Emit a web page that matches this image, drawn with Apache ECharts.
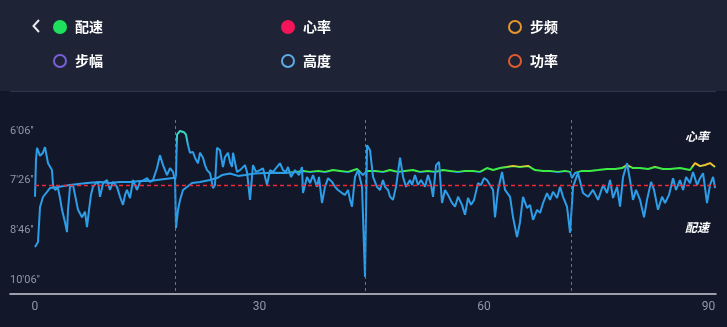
<!DOCTYPE html>
<html>
<head>
<meta charset="utf-8">
<style>
html,body{margin:0;padding:0;background:#12182a;}
#c{width:727px;height:327px;}
</style>
<script src="https://cdn.jsdelivr.net/npm/echarts@6/dist/echarts.min.js"></script>
</head>
<body>
<div id="c"></div>
<script>
// ---- data ----
const xTicks = [0, 30, 60, 90];
const paceTicks = [366, 446, 526, 606];          // seconds per km (6'06'' ... 10'06'')
const avgPace = 453;                               // red dashed reference line
const lapMarks = [18.71, 44.10, 71.63];           // vertical dashed markers

// line A (smooth, value-coloured) on hidden right axis
const hrX = [0,0.40,0.67,1.07,2.00,3.07,4.68,6.95,8.69,10.02,11.36,12.70,14.03,15.37,16.30,17.37,18.44,18.71,18.84,19.11,19.38,19.78,20.31,20.98,22.05,23.39,24.32,24.99,26.06,27.13,28.06,29.40,30.74,32.07,33.41,35.01,35.81,36.75,37.82,38.75,39.82,40.76,41.83,43.03,43.83,44.37,45.44,46.51,47.44,48.51,49.45,50.51,51.45,52.52,53.45,54.52,55.46,56.53,57.46,58.53,59.47,60.40,61.21,62.14,63.08,63.88,64.81,65.88,66.82,67.89,68.82,69.89,70.83,71.50,71.76,72.16,73.10,74.17,75.24,76.44,77.51,78.44,79.11,79.91,80.85,81.92,82.85,83.92,84.86,86.19,87.53,88.20,88.87,89.53,90.20,90.87];
const hrVal = [121.6,123.9,140.0,144.6,148.7,149.2,150.1,151.0,151.5,151.0,151.5,151.5,152.0,152.0,152.4,152.9,153.3,153.8,130.3,138.6,143.2,147.8,149.2,151.0,151.5,152.4,153.3,154.7,155.4,154.3,154.7,155.4,155.6,155.8,155.6,156.1,156.6,156.1,156.6,156.1,157.0,156.6,156.1,157.5,154.7,156.6,156.6,156.1,157.0,156.1,156.6,157.0,156.1,156.6,156.1,157.0,156.6,156.1,156.6,156.6,156.1,157.9,157.0,157.9,158.4,158.9,158.4,158.9,157.0,156.6,156.6,156.1,156.6,156.1,153.3,155.6,156.6,156.6,157.0,157.5,157.5,157.9,159.3,157.9,157.9,157.5,158.4,157.5,157.5,157.9,157.0,160.2,158.8,159.3,160.2,158.4];

// line B (noisy pace, seconds per km) on left inverted axis
const paceX = [0,0.13,0.27,0.67,1.07,1.34,1.74,2.00,2.27,2.41,2.67,3.07,3.34,3.61,4.01,4.28,4.41,4.68,5.08,5.48,5.75,6.28,6.68,6.95,7.22,7.48,7.75,8.15,8.42,8.69,9.09,9.62,10.02,10.42,10.96,11.36,11.76,12.03,12.29,12.70,13.10,13.63,14.03,14.57,14.97,15.37,15.77,16.30,16.70,17.11,17.64,18.04,18.44,18.71,18.84,18.98,19.38,19.91,20.18,20.45,20.71,21.11,21.38,21.78,22.05,22.45,22.72,22.99,23.39,23.79,24.05,24.32,24.72,25.12,25.39,25.79,26.06,26.33,26.46,26.99,27.40,27.66,28.06,28.33,28.73,29.13,29.53,30.07,30.47,31.00,31.40,31.81,32.21,32.74,33.14,33.54,33.81,34.21,34.75,35.28,35.68,35.81,36.35,36.75,37.15,37.69,37.95,38.35,38.75,39.16,39.69,40.09,40.49,41.03,41.43,41.83,42.10,42.36,42.76,43.16,43.70,44.10,44.37,44.77,45.17,45.70,46.10,46.50,46.77,47.17,47.44,47.84,48.24,48.78,49.18,49.58,50.11,50.38,50.78,51.18,51.58,52.12,52.52,52.92,53.19,53.59,53.99,54.39,54.79,55.19,55.73,56.13,56.53,57.06,57.46,57.86,58.27,58.67,59.20,59.60,60.00,60.40,60.80,61.21,61.47,61.87,62.41,62.81,63.48,63.88,64.41,64.81,65.21,65.75,66.15,66.55,67.09,67.49,67.89,68.42,68.82,69.22,69.76,70.16,70.56,71.09,71.50,71.90,72.30,72.56,73.23,73.90,74.57,75.24,75.91,76.44,76.84,77.24,77.78,78.18,78.58,79.11,79.51,79.91,80.31,80.85,81.38,81.78,82.32,82.72,83.25,83.79,84.19,84.72,85.26,85.66,86.19,86.60,87.00,87.53,87.93,88.47,88.87,89.27,89.80,90.20,90.61,90.87];
const paceVal = [472,413,393,406,401,392,418,418,429,453,461,458,474,493,513,529,493,456,453,477,493,505,496,521,493,469,456,450,448,472,450,445,461,448,456,472,485,469,461,474,445,461,448,445,442,448,445,426,405,421,437,426,432,445,437,372,366,368,372,389,401,400,409,418,401,409,421,429,434,458,453,393,397,424,408,401,416,424,401,432,429,429,421,432,477,421,432,429,426,453,429,432,426,418,429,432,424,440,429,437,424,466,440,450,437,456,440,482,456,442,448,456,461,466,469,461,477,488,440,429,456,601,389,397,440,456,461,445,456,461,472,477,456,409,440,456,445,453,437,453,445,456,437,453,472,421,416,482,461,469,482,488,472,485,501,474,485,477,450,453,442,445,453,461,505,461,432,461,472,505,537,513,472,490,485,509,493,498,482,466,477,464,474,456,472,488,530,456,442,434,466,472,461,477,453,466,445,474,456,488,440,418,445,477,461,477,505,477,448,461,493,472,482,469,442,461,445,461,440,450,432,453,442,434,482,453,440,458];

// ---- chart ----
const fmtPace = v => Math.floor(v / 60) + "'" + String(Math.round(v % 60)).padStart(2, '0') + "''";
const zip = (a, b) => a.map((x, i) => [x, b[i]]);

const chart = echarts.init(document.getElementById('c'), null, {renderer: 'canvas'});

const legendItems = [
  {name: '配速', color: '#1fe05c', filled: true,  x: 60,  y: 27},
  {name: '心率', color: '#f3145a', filled: true,  x: 288, y: 27},
  {name: '步频', color: '#e6982c', filled: false, x: 515, y: 27},
  {name: '步幅', color: '#7a60d8', filled: false, x: 60,  y: 61},
  {name: '高度', color: '#5eaae6', filled: false, x: 288, y: 61},
  {name: '功率', color: '#df5a2e', filled: false, x: 515, y: 61}
];

const graphics = [
  {type: 'rect', shape: {x: 0, y: 0, width: 727, height: 91}, style: {fill: '#1e2336'}, z: -10},
  {type: 'line', shape: {x1: 10, y1: 91.5, x2: 716, y2: 91.5}, style: {stroke: '#30364a', lineWidth: 1}},
  {type: 'polyline', shape: {points: [[39, 20], [33.5, 26], [39, 32]]}, style: {stroke: '#e8eaf0', lineWidth: 2, fill: null}},
  {type: 'text', left: 685, top: 130, style: {text: '心率', fill: '#ffffff', font: 'italic bold 12px "Noto Sans CJK SC"'}},
  {type: 'text', left: 685, top: 221, style: {text: '配速', fill: '#ffffff', font: 'italic bold 12px "Noto Sans CJK SC"'}}
];
legendItems.forEach(it => {
  graphics.push({
    type: 'circle', shape: {cx: it.x, cy: it.y, r: it.filled ? 7 : 6},
    style: it.filled ? {fill: it.color} : {fill: 'none', stroke: it.color, lineWidth: 2}
  });
  graphics.push({
    type: 'text', x: it.x + 15, y: it.y, style: {text: it.name, fill: '#ffffff', font: 'bold 14px "Noto Sans CJK SC"', verticalAlign: 'middle'}
  });
});

const redDash = {color: '#ee2a3a', type: [4, 3], width: 1.4, opacity: 1};

chart.setOption({
  animation: false,
  backgroundColor: '#12182a',
  grid: {left: 10, right: 11, top: 120, bottom: 33},
  xAxis: {
    type: 'value', min: -3.34, max: 91.0,
    axisLine: {show: true, lineStyle: {color: '#c9cdd6', width: 1.5}},
    axisTick: {show: false},
    splitLine: {show: false},
    axisLabel: {customValues: xTicks, color: '#9097a6', fontSize: 12, margin: 7, fontFamily: 'Roboto'}
  },
  yAxis: [{
    type: 'value', inverse: true, min: 348.3, max: 628.6,
    axisLine: {show: false}, axisTick: {show: false}, splitLine: {show: false},
    axisLabel: {
      customValues: paceTicks, inside: true, margin: 0, color: '#8f95a4', fontSize: 11,
      fontFamily: 'Roboto', formatter: v => paceTicks.includes(v) ? fmtPace(v) : ''
    }
  }, {
    type: 'value', min: 100, max: 180, show: false
  }],
  visualMap: [{
    show: false, type: 'piecewise', seriesIndex: 1, dimension: 1,
    pieces: [
      {lt: 155.95, color: '#2e9de8'},
      {gte: 155.95, lt: 158.2, color: '#3deb47'},
      {gte: 158.2, lt: 158.8, color: '#b4e23a'},
      {gte: 158.8, color: '#f1c22f'}
    ]
  }],
  series: [{
    name: 'marks', type: 'line', yAxisIndex: 0, data: [], silent: true, z: 1,
    markLine: {
      silent: true, symbol: 'none', label: {show: false}, animation: false,
      lineStyle: {color: '#6b7283', type: [3, 3], width: 1},
      data: lapMarks.map(v => ({xAxis: v}))
    }
  }, {
    name: '心率', type: 'line', yAxisIndex: 1, showSymbol: false, z: 2,
    lineStyle: {width: 2}, data: zip(hrX, hrVal)
  }, {
    name: '配速', type: 'line', yAxisIndex: 0, showSymbol: false, z: 3,
    lineStyle: {
      width: 2,
      color: {type: 'linear', x: 0, y: 128, x2: 0, y2: 148, global: true,
        colorStops: [{offset: 0, color: '#40dcb8'}, {offset: 0.5, color: '#38c8d0'}, {offset: 1, color: '#2e9de8'}]}
    },
    data: zip(paceX, paceVal)
  }, {
    name: 'avg', type: 'line', yAxisIndex: 0, data: [], silent: true, z: 4, color: '#ee2a3a',
    markLine: {
      silent: true, symbol: 'none', label: {show: false}, animation: false,
      lineStyle: redDash,
      emphasis: {disabled: true},
      data: [[{coord: [0, avgPace], lineStyle: redDash}, {coord: [91, avgPace], lineStyle: redDash}]]
    }
  }],
  graphic: graphics
});
</script>
</body>
</html>
